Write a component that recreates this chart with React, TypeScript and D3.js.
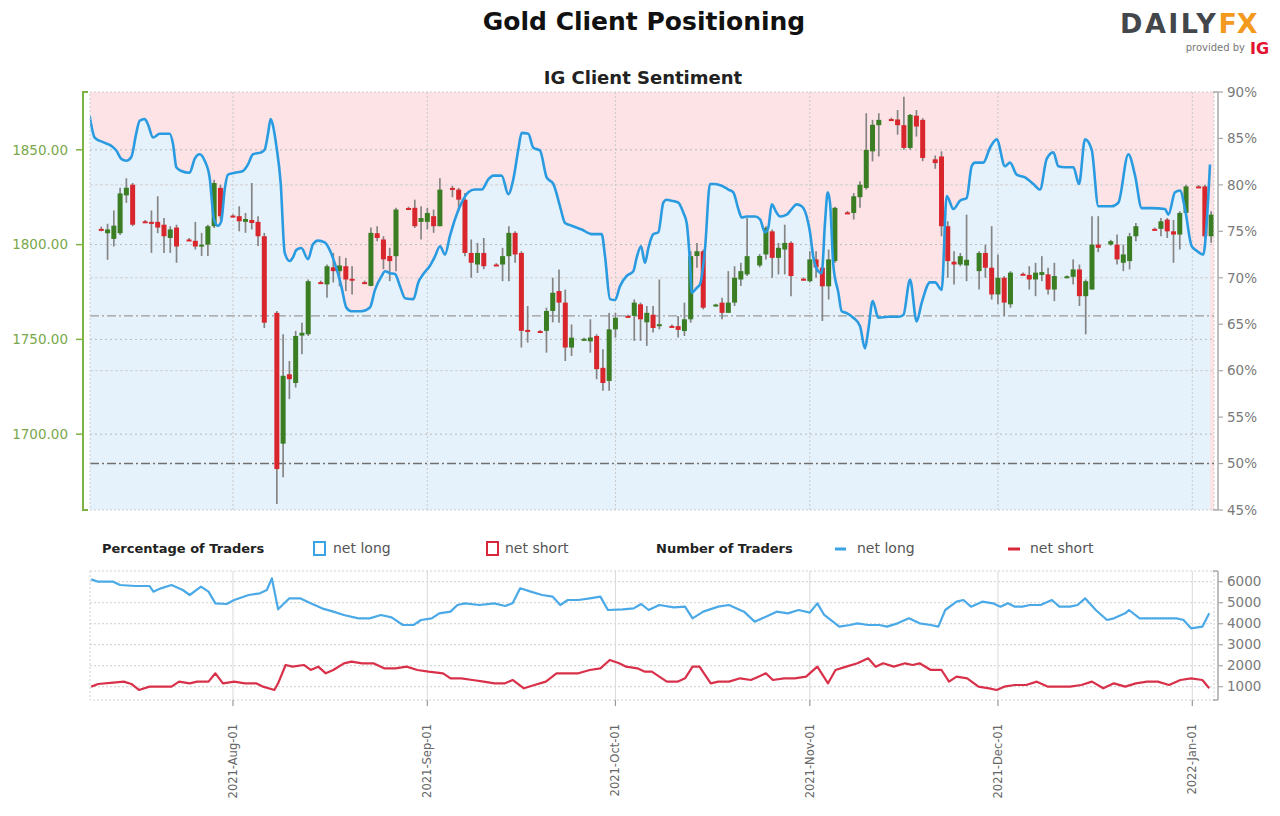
import React from "react";
import * as d3 from "d3";

// [date, open, high, low, close]
const candles: [string, number, number, number, number][] = [
  ["2021-07-11", 1808.3, 1809.5, 1807, 1808.0],
  ["2021-07-12", 1806, 1811, 1792, 1808],
  ["2021-07-13", 1803, 1818, 1799, 1810],
  ["2021-07-14", 1806, 1830, 1805, 1827],
  ["2021-07-15", 1826, 1835, 1822, 1830],
  ["2021-07-16", 1831.6, 1832.5, 1809.7, 1810.5],
  ["2021-07-18", 1812.3, 1813, 1811.5, 1812],
  ["2021-07-19", 1812, 1818, 1795.6, 1811],
  ["2021-07-20", 1812, 1825.5, 1806, 1809],
  ["2021-07-21", 1810.5, 1814, 1795.6, 1804.4],
  ["2021-07-22", 1803.5, 1809.7, 1795.6, 1808],
  ["2021-07-23", 1809, 1810.5, 1790.4, 1799],
  ["2021-07-25", 1802.7, 1803.5, 1802, 1802],
  ["2021-07-26", 1802, 1812, 1797.4, 1799],
  ["2021-07-27", 1799, 1806.2, 1794, 1800],
  ["2021-07-28", 1800, 1810.5, 1794, 1809.7],
  ["2021-07-29", 1809.7, 1834.2, 1808.8, 1832.5],
  ["2021-07-30", 1829.9, 1831.6, 1813.2, 1815],
  ["2021-08-01", 1815.3, 1816, 1814.5, 1815],
  ["2021-08-02", 1815, 1820.2, 1807, 1812.3],
  ["2021-08-03", 1812, 1816.7, 1806.2, 1813.5],
  ["2021-08-04", 1813, 1832.5, 1808, 1811.4],
  ["2021-08-05", 1812, 1815, 1799.2, 1804.4],
  ["2021-08-06", 1804.4, 1806.2, 1756, 1758.8],
  ["2021-08-08", 1764, 1765, 1663.2, 1681.6],
  ["2021-08-09", 1695, 1752.7, 1677.3, 1730.8],
  ["2021-08-10", 1731.6, 1738.6, 1718.5, 1729],
  ["2021-08-11", 1727, 1754.5, 1724.6, 1751.8],
  ["2021-08-12", 1752, 1758.8, 1742.2, 1753.5],
  ["2021-08-13", 1752.7, 1781.6, 1751.8, 1780.7],
  ["2021-08-15", 1780.2, 1781, 1779.5, 1780],
  ["2021-08-16", 1779, 1789.5, 1772, 1788.6],
  ["2021-08-17", 1788, 1795.6, 1780, 1786],
  ["2021-08-18", 1786, 1793.9, 1778, 1789],
  ["2021-08-19", 1788.6, 1793, 1775.5, 1781.6],
  ["2021-08-20", 1782, 1788.6, 1773.7, 1781],
  ["2021-08-22", 1780.2, 1781, 1779.5, 1779.8],
  ["2021-08-23", 1778.2, 1809, 1778, 1806.2],
  ["2021-08-24", 1806, 1809.7, 1801.8, 1803.5],
  ["2021-08-25", 1802.7, 1804.4, 1787, 1792.2],
  ["2021-08-26", 1794, 1798.3, 1780.7, 1791.3],
  ["2021-08-27", 1793.9, 1819.4, 1786, 1818.5],
  ["2021-08-29", 1819.3, 1820, 1818.5, 1819],
  ["2021-08-30", 1819.4, 1823.7, 1808.8, 1809.7],
  ["2021-08-31", 1812, 1820.2, 1802.7, 1814],
  ["2021-09-01", 1812, 1819.4, 1808, 1816.7],
  ["2021-09-02", 1815, 1818.5, 1806.2, 1809.7],
  ["2021-09-03", 1809.7, 1835, 1809.7, 1829],
  ["2021-09-05", 1829.9, 1831, 1825, 1829.5],
  ["2021-09-06", 1829, 1829.9, 1817.6, 1823.7],
  ["2021-09-07", 1823.7, 1827.2, 1793.9, 1795.6],
  ["2021-09-08", 1795.6, 1802.7, 1782.5, 1790.4],
  ["2021-09-09", 1789.5, 1800.9, 1785, 1795.6],
  ["2021-09-10", 1795.6, 1803.5, 1787, 1788.6],
  ["2021-09-12", 1789.5, 1790.2, 1789, 1789.2],
  ["2021-09-13", 1789.5, 1798.3, 1780.7, 1793.9],
  ["2021-09-14", 1793.9, 1809.7, 1780.7, 1806.2],
  ["2021-09-15", 1806.2, 1807, 1790.4, 1794.8],
  ["2021-09-16", 1795.6, 1796.5, 1745.7, 1754.5],
  ["2021-09-17", 1755, 1767.6, 1748.3, 1754],
  ["2021-09-19", 1754.4, 1755, 1753.5, 1754],
  ["2021-09-20", 1754.5, 1766.7, 1743, 1765],
  ["2021-09-21", 1765, 1782.5, 1759, 1774.6],
  ["2021-09-22", 1775.5, 1786.9, 1758.8, 1769.4],
  ["2021-09-23", 1769.4, 1776.3, 1738.6, 1745.7],
  ["2021-09-24", 1745.7, 1757.9, 1741.2, 1750.9],
  ["2021-09-26", 1750, 1750.8, 1749.3, 1750.3],
  ["2021-09-27", 1749, 1760.6, 1743, 1751],
  ["2021-09-28", 1751.8, 1752.7, 1729, 1734.3],
  ["2021-09-29", 1735, 1744.8, 1722.9, 1727],
  ["2021-09-30", 1728.1, 1764, 1722.9, 1755.3],
  ["2021-10-01", 1755.3, 1764, 1750.9, 1761.4],
  ["2021-10-03", 1762.4, 1763, 1761.8, 1762],
  ["2021-10-04", 1762.4, 1771.1, 1749.2, 1769.4],
  ["2021-10-05", 1768.5, 1769.4, 1749.2, 1760.6],
  ["2021-10-06", 1759, 1767.6, 1746.6, 1764],
  ["2021-10-07", 1763, 1767.6, 1753.6, 1756],
  ["2021-10-08", 1757, 1781.6, 1755.3, 1758],
  ["2021-10-10", 1757.1, 1757.8, 1756.5, 1756.8],
  ["2021-10-11", 1757, 1762.3, 1751, 1755],
  ["2021-10-12", 1754.4, 1769.4, 1751.8, 1760.6],
  ["2021-10-13", 1760.6, 1796.5, 1758.8, 1793.9],
  ["2021-10-14", 1794, 1800.9, 1787.8, 1796.5],
  ["2021-10-15", 1796.5, 1797.4, 1765.8, 1766.7],
  ["2021-10-17", 1768, 1768.8, 1767.3, 1768.4],
  ["2021-10-18", 1769.4, 1772, 1760.6, 1764],
  ["2021-10-19", 1764, 1786, 1764, 1769.4],
  ["2021-10-20", 1769.4, 1788.6, 1767.6, 1782.5],
  ["2021-10-21", 1781.6, 1790.4, 1778.2, 1786],
  ["2021-10-22", 1784.3, 1814, 1783.4, 1793.9],
  ["2021-10-24", 1789, 1795, 1788, 1794],
  ["2021-10-25", 1794.8, 1809.7, 1792.2, 1808.8],
  ["2021-10-26", 1807, 1808, 1782.5, 1793],
  ["2021-10-27", 1793, 1800.9, 1784.3, 1798.3],
  ["2021-10-28", 1797.4, 1810.5, 1784.3, 1800.9],
  ["2021-10-29", 1800.9, 1801.8, 1772.8, 1783.4],
  ["2021-10-31", 1782, 1782.7, 1781.3, 1781.6],
  ["2021-11-01", 1780.7, 1796.5, 1780, 1792.2],
  ["2021-11-02", 1792.2, 1796.5, 1782.5, 1788],
  ["2021-11-03", 1787.8, 1788.5, 1759.7, 1778],
  ["2021-11-04", 1778, 1797.4, 1771, 1792.2],
  ["2021-11-05", 1791.3, 1820, 1790.4, 1819.4],
  ["2021-11-07", 1817, 1817.7, 1816.3, 1816.6],
  ["2021-11-08", 1816.7, 1827.2, 1813.2, 1825.5],
  ["2021-11-09", 1825, 1833.4, 1819.4, 1831.6],
  ["2021-11-10", 1829.9, 1869.3, 1829, 1850],
  ["2021-11-11", 1849.2, 1865.8, 1843.9, 1863.2],
  ["2021-11-12", 1863, 1869.3, 1846.5, 1865.8],
  ["2021-11-14", 1866.2, 1866.9, 1865.5, 1865.8],
  ["2021-11-15", 1866, 1871, 1858, 1863],
  ["2021-11-16", 1863, 1878, 1850, 1851],
  ["2021-11-17", 1851, 1868.9, 1850, 1868.4],
  ["2021-11-18", 1868, 1871, 1857, 1862.3],
  ["2021-11-19", 1865.8, 1866.7, 1844, 1845.7],
  ["2021-11-21", 1845, 1847, 1840, 1843],
  ["2021-11-22", 1846.5, 1849.2, 1804.4, 1809.7],
  ["2021-11-23", 1809.7, 1812.3, 1782.5, 1791.3],
  ["2021-11-24", 1791, 1796.5, 1779, 1789.5],
  ["2021-11-25", 1789.5, 1795.6, 1788.6, 1793.9],
  ["2021-11-26", 1789, 1815.8, 1780.7, 1792],
  ["2021-11-28", 1786, 1796.5, 1776.3, 1795.6],
  ["2021-11-29", 1795.6, 1800, 1782.5, 1787.8],
  ["2021-11-30", 1787.8, 1809.7, 1771, 1773.7],
  ["2021-12-01", 1773.7, 1794.8, 1768.5, 1782.5],
  ["2021-12-02", 1782.5, 1783.4, 1762.3, 1769.4],
  ["2021-12-03", 1768.5, 1786, 1766.7, 1785.2],
  ["2021-12-05", 1784.6, 1785.3, 1783.9, 1784.2],
  ["2021-12-06", 1784, 1788.6, 1776.3, 1781.6],
  ["2021-12-07", 1781.6, 1790.4, 1772.8, 1785.2],
  ["2021-12-08", 1784, 1793.9, 1780.7, 1785.5],
  ["2021-12-09", 1784.3, 1787.8, 1773.7, 1776.3],
  ["2021-12-10", 1776.3, 1790.4, 1770.2, 1783.4],
  ["2021-12-12", 1783, 1783.7, 1782.3, 1783.3],
  ["2021-12-13", 1783, 1792.2, 1779, 1786.9],
  ["2021-12-14", 1786.9, 1789.5, 1767.6, 1772.8],
  ["2021-12-15", 1772.8, 1781.6, 1752.7, 1780.7],
  ["2021-12-16", 1776.3, 1815, 1776.3, 1800],
  ["2021-12-17", 1800, 1815, 1796, 1798.3],
  ["2021-12-19", 1800, 1802.5, 1799.5, 1801.8],
  ["2021-12-20", 1800, 1805.3, 1789.5, 1792.2],
  ["2021-12-21", 1790.4, 1800, 1786, 1794.8],
  ["2021-12-22", 1791.3, 1806.2, 1786.9, 1804.4],
  ["2021-12-23", 1804.4, 1811.4, 1801.8, 1809.7],
  ["2021-12-26", 1808.3, 1809, 1807.6, 1808],
  ["2021-12-27", 1808.3, 1814, 1804.4, 1812.3],
  ["2021-12-28", 1813.2, 1814, 1803.5, 1807],
  ["2021-12-29", 1807, 1813, 1790.4, 1805.3],
  ["2021-12-30", 1805.3, 1817.6, 1797.4, 1816.7],
  ["2021-12-31", 1816.7, 1831.6, 1816.7, 1830.7],
  ["2022-01-02", 1830.7, 1831.4, 1830, 1830.3],
  ["2022-01-03", 1830.7, 1831.6, 1803.5, 1804.4],
  ["2022-01-04", 1804.4, 1817.6, 1801, 1815.8],
];

// IG client sentiment: % of traders net long (days since 2021-07-11)
const sentDay = [
  -1.85, -1.06, 0.27, 1.6, 2.4, 3.19, 3.99, 4.79, 5.59, 6.12, 6.92, 7.45, 8.25, 9.31, 10.9, 11.44, 11.97,
  12.76, 14.09, 14.89, 15.69, 16.49, 17.28, 17.97, 18.61, 19.14, 19.68, 20.21, 21.27, 22.6, 23.4, 24.19,
  25.52, 26.06, 26.59, 27.01, 27.38, 27.92, 28.61, 29.25, 30.04, 30.57, 31.11, 31.9, 32.97, 33.76, 34.56,
  35.63, 36.42, 37.22, 38.28, 39.08, 39.88, 41.47, 42.85, 43.65, 44.72, 45.25, 46.04, 46.84, 47.64, 48.44,
  49.77, 50.56, 51.36, 52.42, 53.22, 54.02, 54.82, 55.61, 56.41, 57.48, 58.54, 59.6, 60.67, 61.73, 62.52,
  63.85, 64.92, 65.71, 66.51, 67.04, 68.11, 68.9, 69.97, 71.03, 72.09, 73.16, 73.96, 75.02, 76.62, 78.21,
  79.8, 80.34, 81.13, 81.93, 82.73, 83.79, 84.85, 85.39, 86.08, 86.71, 87.25, 88.04, 88.84, 89.64, 90.17,
  90.97, 92.03, 92.83, 93.36, 93.89, 94.16, 94.95, 95.49, 96.28, 97.08, 97.88, 98.94, 100.0, 100.8, 101.6,
  102.13, 102.93, 104.26, 105.06, 105.85, 106.38, 106.92, 107.71, 108.25, 109.31, 110.11, 110.9, 111.7,
  112.5, 113.03, 113.56, 114.36, 114.89, 115.42, 115.85, 116.22, 116.75, 117.55, 118.08, 118.88, 119.94,
  121.0, 121.8, 122.33, 123.03, 123.93, 125.52, 127.12, 127.92, 128.98, 130.04, 130.84, 132.17, 132.97,
  134.03, 134.83, 135.9, 136.95, 138.02, 138.81, 139.35, 140.67, 141.74, 142.8, 144.13, 144.93, 145.99,
  147.32, 148.65, 149.71, 150.78, 151.84, 152.64, 153.7, 155.03, 155.93, 156.89, 157.95, 159.02, 160.08,
  161.14, 162.21, 163.8, 164.87, 165.93, 167.53, 169.65, 170.18, 171.24, 172.04, 172.84, 173.9, 174.7,
  175.76, 176.29, 176.82,
];
const sentPct = [
  87.4, 85.1, 84.6, 84.2, 83.7, 82.8, 82.6, 83.0, 85.6, 86.9, 87.1, 86.5, 85.1, 85.5, 85.5, 84.4, 81.9,
  81.5, 81.3, 82.8, 83.3, 82.6, 80.8, 76.3, 75.6, 76.1, 79.5, 81.1, 81.3, 81.5, 82.2, 83.3,
  83.5, 83.8, 85.5, 87.1, 86.4, 84.2, 80.2, 72.7, 71.8, 72.2, 73.0, 73.2, 72.0, 73.6, 74.0,
  73.8, 73.0, 71.6, 69.1, 66.8, 66.4, 66.4, 66.8, 68.7, 70.2, 70.7, 70.5, 70.4, 69.1, 67.8,
  67.7, 69.5, 70.4, 71.3, 72.3, 73.4, 72.5, 74.5, 76.3, 78.1, 79.2, 79.5, 79.5, 80.6, 81.0,
  81.0, 79.0, 80.6, 83.8, 85.6, 85.5, 84.0, 83.7, 80.8, 80.1, 77.7, 75.9, 75.6, 75.2, 74.7,
  74.7, 72.3, 67.7, 67.6, 69.1, 70.2, 70.7, 72.2, 73.4, 71.6, 73.2, 74.7, 74.9, 78.1, 78.4,
  78.3, 78.1, 77.0, 75.9, 71.6, 68.4, 68.9, 69.3, 73.1, 80.1, 80.1, 79.9, 79.5, 79.2, 77.4,
  76.5, 76.6, 76.6, 76.3, 74.9, 75.4, 77.9, 77.0, 76.6, 76.8, 77.4, 77.9, 77.7,
  76.6, 74.9, 72.2, 70.7, 70.5, 75.9, 79.2, 78.1, 71.3, 68.4, 66.4, 66.2, 65.7,
  64.8, 62.4, 64.4, 67.5, 65.7, 65.8, 65.8, 66.0, 69.8, 65.3, 67.3, 69.5, 69.5,
  68.7, 78.8, 77.4, 78.3, 78.6, 82.0, 82.4, 82.4, 84.0, 84.9, 82.0, 82.4, 81.1,
  80.8, 80.1, 79.5, 82.8, 83.5, 82.0, 81.9, 81.9, 80.1, 84.9, 83.8, 77.7, 77.7,
  77.7, 78.1, 83.3, 81.0, 77.5, 77.5, 77.4, 76.8, 79.2, 79.4, 77.4, 73.4, 72.9,
  72.5, 75.9, 82.2,
];

// Number of traders net long (days since 2021-07-11)
const longDay = [
  -1.6, -0.5, 1.9, 3.0, 5.4, 7.7, 8.3, 9.5, 11.2, 13.0, 14.1, 15.9, 17.1, 18.2, 20.0, 21.2, 23.5, 25.3,
  26.4, 27.2, 28.2, 30.0, 31.7, 33.4, 35.2, 37.0, 38.7, 41.0, 42.8, 44.6, 46.3, 48.1, 49.8, 51.0, 52.7,
  53.9, 55.7, 56.8, 58.0, 60.3, 62.7, 64.4, 65.6, 66.8, 68.5, 70.3, 72.0, 73.2, 74.4, 76.1, 77.9, 79.6,
  80.8, 83.2, 84.9, 86.1, 87.3, 89.0, 91.3, 93.1, 94.3, 96.0, 98.4, 100.1, 102.5, 104.2, 106.0, 107.7,
  109.5, 111.2, 113.0, 114.2, 115.3, 117.7, 119.4, 120.6, 122.3, 124.1, 125.3, 127.0, 128.8, 130.5,
  132.3, 133.5, 134.6, 136.4, 137.5, 138.7, 140.5, 142.2, 143.4, 144.6, 145.7, 146.9, 148.1, 149.8,
  151.6, 152.8, 154.5, 155.7, 156.9, 158.6, 160.4, 161.5, 163.3, 163.9, 165.6, 167.4, 169.7, 171.5,
  172.6, 173.8, 175.6, 176.7,
];
const longCount = [
  6113, 6002, 6002, 5843, 5796, 5796, 5526, 5685, 5843, 5605, 5367, 5764, 5526, 4971, 4939, 5129, 5367, 5447,
  5605, 6161, 4685, 5209, 5209, 4971, 4732, 4574, 4415, 4256, 4256, 4415, 4304, 3939, 3939, 4177, 4256,
  4494, 4574, 4891, 4971, 4891, 4971, 4844, 4971, 5685, 5526, 5367, 5288, 4891, 5129, 5129, 5209, 5288,
  4653, 4685, 4732, 4939, 4653, 4891, 4780, 4812, 4256, 4574, 4812, 4891, 4574, 4098, 4336, 4574,
  4494, 4653, 4526, 4971, 4415, 3860, 3939, 4018, 3939, 3939, 3860, 4018, 4256, 4018,
  3939, 3860, 4653, 5050, 5129, 4812, 5050, 4971, 4812, 4971, 4812, 4812, 4891, 4891,
  5129, 4812, 4812, 4891, 5209, 4653, 4177, 4256, 4494, 4653, 4256, 4256, 4256, 4256,
  4177, 3780, 3860, 4494,
];

// Number of traders net short (days since 2021-07-11)
const shortDay = [
  -1.6, -0.5, 1.9, 3.6, 4.8, 6.0, 7.7, 9.5, 11.2, 12.4, 14.1, 15.3, 17.1, 18.2, 19.4, 21.2, 22.9, 24.7,
  25.8, 27.6, 28.2, 29.4, 30.5, 32.3, 33.4, 34.6, 35.8, 37.0, 38.7, 39.9, 41.6, 43.4, 45.1, 46.9, 48.7,
  50.4, 52.2, 54.5, 55.7, 57.4, 59.2, 61.0, 62.7, 64.4, 65.6, 67.4, 69.1, 70.9, 72.6, 74.4, 76.1, 77.9,
  79.6, 81.1, 82.6, 83.7, 85.5, 86.7, 87.8, 89.0, 90.2, 91.9, 93.1, 94.3, 95.4, 97.2, 98.4, 100.1, 101.9,
  103.6, 104.8, 106.0, 107.1, 108.9, 110.6, 112.4, 114.2, 115.9, 117.1, 118.8, 120.6, 122.3, 123.5, 124.7,
  126.4, 128.2, 129.4, 130.5, 132.3, 134.0, 135.2, 136.4, 138.1, 139.9, 141.6, 142.8, 144.0, 145.7, 147.5,
  149.2, 151.0, 152.8, 154.5, 156.3, 158.0, 159.8, 161.5, 163.3, 165.0, 166.8, 168.5, 170.3, 172.1, 173.8,
  175.6, 176.7,
];
const shortCount = [
  1003, 1130, 1193, 1241, 1130, 844, 1003, 1003, 1003, 1241, 1161, 1241, 1241, 1638, 1161, 1241, 1161, 1161,
  1003, 844, 1161, 2035, 1955, 2035, 1797, 1955, 1638, 1797, 2114, 2193, 2114, 2114, 1876, 1876, 1955,
  1797, 1717, 1638, 1400, 1400, 1320, 1241, 1161, 1161, 1320, 924, 1082, 1241, 1638, 1638, 1638, 1797,
  1876, 2273, 2114, 1955, 1876, 1717, 1717, 1479, 1241, 1241, 1400, 1955, 1955, 1161, 1241, 1241, 1400,
  1320, 1479, 1638, 1320, 1400, 1400, 1479, 1955, 1161, 1797, 1955, 2114, 2352, 1955, 2114,
  1955, 2114, 2035, 2114, 1797, 1797, 1241, 1479, 1400, 1003, 924, 844, 1003, 1082, 1082,
  1241, 1003, 1003, 1003, 1082, 1241, 924, 1161, 1003, 1161, 1241, 1241, 1082, 1320, 1400,
  1320, 924,
];

const priceTicks = [1700, 1750, 1800, 1850];
const pctTicks = [45, 50, 55, 60, 65, 70, 75, 80, 85, 90];
const pctGrid = [60, 70, 80];
const refLines = [50, 65.9];
const countTicks = [1000, 2000, 3000, 4000, 5000, 6000];
const monthDates = ["2021-08-01", "2021-09-01", "2021-10-01", "2021-11-01", "2021-12-01", "2022-01-01"];
const monthLabels = ["2021-Aug-01", "2021-Sep-01", "2021-Oct-01", "2021-Nov-01", "2021-Dec-01", "2022-Jan-01"];

const DAY = 864e5;
const BASE = Date.UTC(2021, 6, 11);
const toDate = (d: number) => new Date(BASE + d * DAY);

const FONT = "'DejaVu Sans', Verdana, sans-serif";

export default function App() {
  const L = 90, R = 1214, T = 92, B = 510;
  const bT = 571, bB = 700;
  const x = d3.scaleUtc().domain([toDate(-1.8), toDate(177.46)]).range([L, R]);
  const yP = d3.scaleLinear().domain([1660, 1880.5]).range([B, T]);
  const yS = d3.scaleLinear().domain([45, 90]).range([B, T]);
  const yN = d3.scaleLinear().domain([367, 6510]).range([bB, bT]);

  const sentPts: [number, number][] = sentDay.map((d, i) => [x(toDate(d)), yS(sentPct[i])]);
  const sentLine = d3.line().curve(d3.curveMonotoneX)(sentPts) || "";
  const sentArea =
    d3
      .area<[number, number]>()
      .x((p) => p[0])
      .y0(B)
      .y1((p) => p[1])
      .curve(d3.curveMonotoneX)(sentPts) || "";

  const longLine =
    d3.line().curve(d3.curveLinear)(longDay.map((d, i) => [x(toDate(d)), yN(longCount[i])] as [number, number])) || "";
  const shortLine =
    d3.line().curve(d3.curveLinear)(shortDay.map((d, i) => [x(toDate(d)), yN(shortCount[i])] as [number, number])) || "";

  const months = monthDates.map((s) => new Date(s + "T00:00:00Z"));
  const green = "#3a7d22";
  const red = "#d8262c";
  const bw = 5;

  return (
    <svg
      width={1280}
      height={816}
      style={{ position: "absolute", left: 0, top: 0, display: "block", background: "#fff" }}
      fontFamily={FONT}
    >
      <defs>
        <clipPath id="plotClip">
          <rect x={L} y={T} width={R - L} height={B - T} />
        </clipPath>
        <clipPath id="botClip">
          <rect x={L} y={bT} width={R - L} height={bB - bT} />
        </clipPath>
      </defs>

      {/* Titles */}
      <text x={644} y={30} textAnchor="middle" fontSize={25} fontWeight="bold" fill="#111">
        Gold Client Positioning
      </text>
      <text x={643} y={84} textAnchor="middle" fontSize={18} fontWeight="bold" fill="#222">
        IG Client Sentiment
      </text>

      {/* DailyFX logo */}
      <text x={1120} y={33} fontSize={27} fontWeight={600} fill="#43464b" letterSpacing={2.5} fontFamily="'DejaVu Sans', sans-serif">
        DAILY
        <tspan fill="#f39a1e" fontWeight="bold" letterSpacing={0}>FX</tspan>
      </text>
      <text x={1245} y={51} textAnchor="end" fontSize={10} fill="#777">
        provided by
      </text>
      <text x={1250} y={54} fontSize={16} fontWeight="bold" fill="#e3122f">
        IG
      </text>

      {/* Main plot background */}
      <rect x={L} y={T} width={R - L} height={B - T} fill="#fde3e6" />
      <g clipPath="url(#plotClip)">
        <path d={sentArea} fill="#e6f2fb" />
        {pctGrid.map((p) => (
          <line key={"pg" + p} x1={L} x2={R} y1={yS(p)} y2={yS(p)} stroke="#cfcfcf" strokeWidth={1} strokeDasharray="3,2" />
        ))}
        {priceTicks.map((p) => (
          <line key={"g" + p} x1={L} x2={R} y1={yP(p)} y2={yP(p)} stroke="#b9b9b9" strokeWidth={1} strokeDasharray="2,3" />
        ))}
        {refLines.map((p, i) => (
          <line
            key={"ref" + p}
            x1={L}
            x2={R}
            y1={yS(p)}
            y2={yS(p)}
            stroke={i === 0 ? "#6f6f6f" : "#9a9a9a"}
            strokeWidth={i === 0 ? 1.6 : 1.2}
            strokeDasharray="9,3,2,3"
          />
        ))}
        {months.map((m, i) => (
          <line key={"v" + i} x1={x(m)} x2={x(m)} y1={T} y2={B} stroke="#c9c9c9" strokeWidth={1} strokeDasharray="2,2" />
        ))}

        {/* Candles */}
        {candles.map(([d, o, h, l, c]) => {
          const cx = x(new Date(d + "T00:00:00Z"));
          const up = c >= o;
          const top = yP(Math.max(o, c));
          const hgt = Math.max(2, Math.abs(yP(o) - yP(c)));
          return (
            <g key={d}>
              <line x1={cx} x2={cx} y1={yP(h)} y2={yP(l)} stroke="#858585" strokeWidth={1.7} />
              <rect x={cx - bw / 2} y={top} width={bw} height={hgt} fill={up ? green : red} />
            </g>
          );
        })}

        <path d={sentLine} fill="none" stroke="#2a9be0" strokeWidth={2.6} strokeLinejoin="round" />
      </g>
      <rect x={L} y={T} width={R - L} height={B - T} fill="none" stroke="#cfcfcf" strokeWidth={1} strokeDasharray="2,2" />

      {/* Left axis (price) */}
      <line x1={83} x2={83} y1={T} y2={B} stroke="#7cb342" strokeWidth={2} />
      <line x1={82} x2={88} y1={T} y2={T} stroke="#7cb342" strokeWidth={2} />
      <line x1={82} x2={88} y1={B} y2={B} stroke="#7cb342" strokeWidth={2} />
      {priceTicks.map((p) => (
        <g key={"lt" + p}>
          <line x1={76} x2={83} y1={yP(p)} y2={yP(p)} stroke="#7cb342" strokeWidth={1.5} />
          <text x={68} y={yP(p)} dy="0.35em" textAnchor="end" fontSize={13.5} fill="#79a84b">
            {p.toFixed(2)}
          </text>
        </g>
      ))}

      {/* Right axis (percent) */}
      <line x1={1218} x2={1218} y1={T} y2={B} stroke="#a8a8a8" strokeWidth={1.5} />
      <line x1={1213} x2={1218} y1={T} y2={T} stroke="#a8a8a8" strokeWidth={1.5} />
      <line x1={1213} x2={1218} y1={B} y2={B} stroke="#a8a8a8" strokeWidth={1.5} />
      {pctTicks.map((p) => (
        <g key={"rt" + p}>
          <line x1={1218} x2={1223} y1={yS(p)} y2={yS(p)} stroke="#a8a8a8" strokeWidth={1.2} />
          <text x={1227} y={yS(p)} dy="0.35em" fontSize={13.5} fill="#7a7a7a">
            {p}%
          </text>
        </g>
      ))}

      {/* Legend */}
      <text x={102} y={553} fontSize={13} fontWeight="bold" fill="#222">
        Percentage of Traders
      </text>
      <rect x={314} y={542} width={11} height={13} fill="#fff" stroke="#3aa3e3" strokeWidth={2} />
      <text x={333} y={553} fontSize={14} fill="#555">
        net long
      </text>
      <rect x={487} y={542} width={11} height={13} fill="#fff" stroke="#d8263a" strokeWidth={2} />
      <text x={505} y={553} fontSize={14} fill="#555">
        net short
      </text>
      <text x={656} y={553} fontSize={13} fontWeight="bold" fill="#222">
        Number of Traders
      </text>
      <line x1={835} x2={846} y1={549} y2={549} stroke="#3aa3e3" strokeWidth={3} />
      <text x={857} y={553} fontSize={14} fill="#555">
        net long
      </text>
      <line x1={1008} x2={1020} y1={549} y2={549} stroke="#d8263a" strokeWidth={3} />
      <text x={1030} y={553} fontSize={14} fill="#555">
        net short
      </text>

      {/* Bottom panel */}
      <g clipPath="url(#botClip)">
        {countTicks.map((v) => (
          <line key={"bg" + v} x1={L} x2={R} y1={yN(v)} y2={yN(v)} stroke="#cfcfcf" strokeWidth={1} strokeDasharray="2,2" />
        ))}
        {months.map((m, i) => (
          <line key={"bv" + i} x1={x(m)} x2={x(m)} y1={bT} y2={bB} stroke="#dadada" strokeWidth={1} />
        ))}
        <path d={longLine} fill="none" stroke="#4aa9e6" strokeWidth={2.2} strokeLinejoin="round" />
        <path d={shortLine} fill="none" stroke="#d9304a" strokeWidth={2.2} strokeLinejoin="round" />
      </g>
      <rect x={L} y={bT} width={R - L} height={bB - bT} fill="none" stroke="#d0d0d0" strokeWidth={1} strokeDasharray="2,2" />

      {/* Bottom right axis */}
      <line x1={1218} x2={1218} y1={bT} y2={bB} stroke="#a8a8a8" strokeWidth={1.5} />
      <line x1={1213} x2={1218} y1={bT} y2={bT} stroke="#a8a8a8" strokeWidth={1.5} />
      <line x1={1213} x2={1218} y1={bB} y2={bB} stroke="#a8a8a8" strokeWidth={1.5} />
      {countTicks.map((v) => (
        <g key={"bt" + v}>
          <line x1={1218} x2={1223} y1={yN(v)} y2={yN(v)} stroke="#a8a8a8" strokeWidth={1.2} />
          <text x={1227} y={yN(v)} dy="0.35em" fontSize={13.5} fill="#7a7a7a">
            {v}
          </text>
        </g>
      ))}

      {/* X axis */}
      {months.map((m, i) => (
        <g key={"xt" + i}>
          <line x1={x(m)} x2={x(m)} y1={bB} y2={bB + 6} stroke="#999" strokeWidth={1.2} />
          <text
            transform={`translate(${x(m)},${bB + 24}) rotate(-90)`}
            dy="0.35em"
            textAnchor="end"
            fontSize={11.5}
            fill="#666"
          >
            {monthLabels[i]}
          </text>
        </g>
      ))}
    </svg>
  );
}
